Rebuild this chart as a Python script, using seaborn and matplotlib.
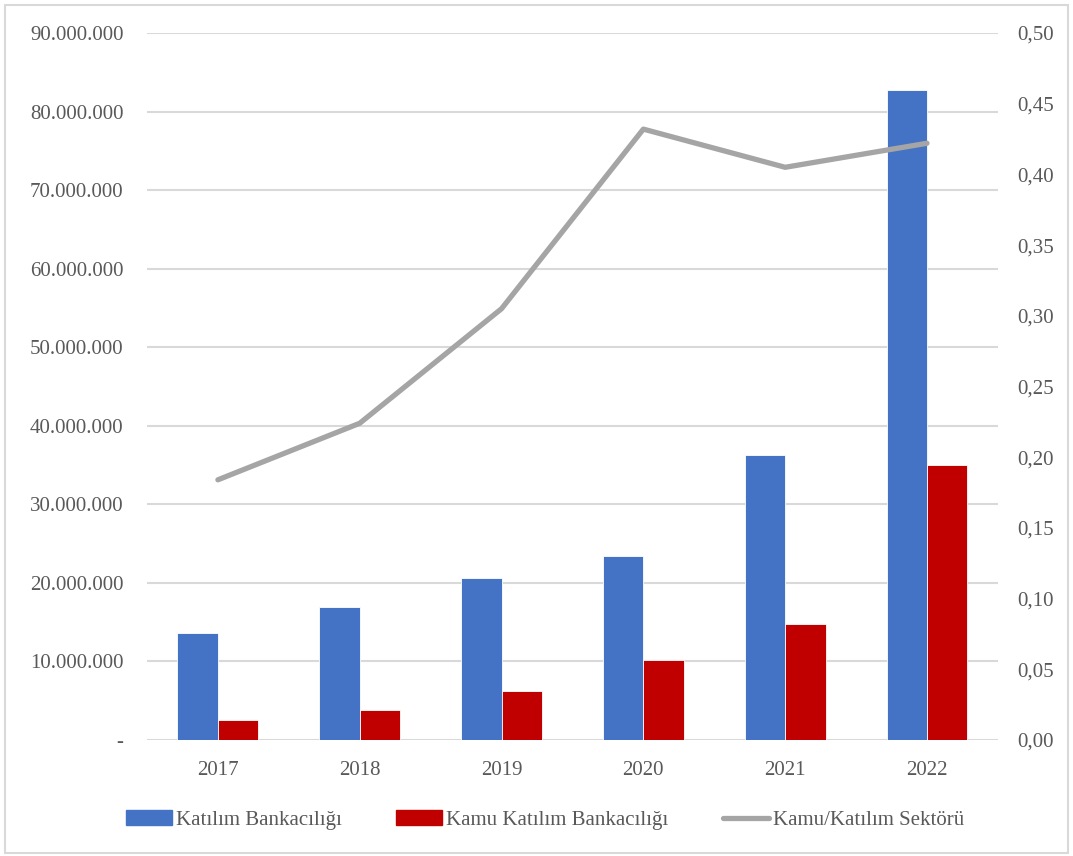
import matplotlib.pyplot as plt
import matplotlib.ticker as mticker
from matplotlib.patches import Rectangle
from matplotlib.lines import Line2D
import pandas as pd
import seaborn as sns

# values
years = ["2017", "2018", "2019", "2020", "2021", "2022"]
katilim = [13600000, 16900000, 20600000, 23400000, 36300000, 82800000]
kamu_katilim = [2500000, 3800000, 6200000, 10200000, 14800000, 35000000]
oran = [0.184, 0.224, 0.305, 0.432, 0.405, 0.422]

bar_labels = ["Katılım Bankacılığı", "Kamu Katılım Bankacılığı"]
line_label = "Kamu/Katılım Sektörü"
bar_colors = ["#4472C4", "#C00000"]
line_color = "#A5A5A5"
text_color = "#595959"

sns.set_theme(style="white")
plt.rcParams["font.family"] = ["Liberation Serif", "DejaVu Serif"]

df = pd.DataFrame({
    "Yil": years * 2,
    "Deger": katilim + kamu_katilim,
    "Seri": [bar_labels[0]] * len(years) + [bar_labels[1]] * len(years),
})

fig = plt.figure(figsize=(10.73, 8.56), dpi=100)
ax = fig.add_axes([0.137, 0.1355, 0.793, 0.826])

sns.barplot(data=df, x="Yil", y="Deger", hue="Seri", palette=bar_colors,
            width=0.57, gap=0, saturation=1, ax=ax, legend=False, zorder=2,
            edgecolor="white", linewidth=0.6)

ax.set_xlim(-0.5, 5.5)
ax.set_ylim(0, 90000000)
ax.yaxis.set_major_locator(mticker.MultipleLocator(10000000))


def fmt_left(v, pos):
    if v == 0:
        return "-"
    return f"{int(round(v)):,}".replace(",", ".")


ax.yaxis.set_major_formatter(mticker.FuncFormatter(fmt_left))
ax.grid(axis="y", color="#D9D9D9", linewidth=1.5, zorder=0)
ax.set_axisbelow(True)
ax.set_xlabel("")
ax.set_ylabel("")
for s in ax.spines.values():
    s.set_visible(False)
ax.tick_params(axis="both", length=0, labelsize=15, labelcolor=text_color)
ax.tick_params(axis="y", pad=17)
ax.tick_params(axis="x", pad=15)

ax2 = ax.twinx()
sns.lineplot(x=list(range(len(years))), y=oran, color=line_color,
             linewidth=3.8, ax=ax2, legend=False)
ax2.set_ylim(0, 0.5)
ax2.yaxis.set_major_locator(mticker.MultipleLocator(0.05))
ax2.yaxis.set_major_formatter(
    mticker.FuncFormatter(lambda v, pos: f"{v:.2f}".replace(".", ",")))
ax2.grid(False)
for s in ax2.spines.values():
    s.set_visible(False)
ax2.tick_params(axis="y", length=0, labelsize=15, labelcolor=text_color, pad=14)
ax2.set_xlim(-0.5, 5.5)

handles = [
    Rectangle((0, 0), 1, 1, color=bar_colors[0]),
    Rectangle((0, 0), 1, 1, color=bar_colors[1]),
    Line2D([0], [0], color=line_color, linewidth=3.8),
]
leg = fig.legend(handles, bar_labels + [line_label], loc="center",
                 bbox_to_anchor=(0.508, 0.042), ncol=3, frameon=False,
                 fontsize=15, handlelength=2.2, handleheight=0.7,
                 handletextpad=0.2, columnspacing=2.6)
for t in leg.get_texts():
    t.set_color(text_color)

# light frame around the chart area
fig.add_artist(Rectangle((0.005, 0.004), 0.99, 0.99, transform=fig.transFigure,
                         fill=False, edgecolor="#D9D9D9", linewidth=1.5))

fig.savefig("out.png", dpi=100)
